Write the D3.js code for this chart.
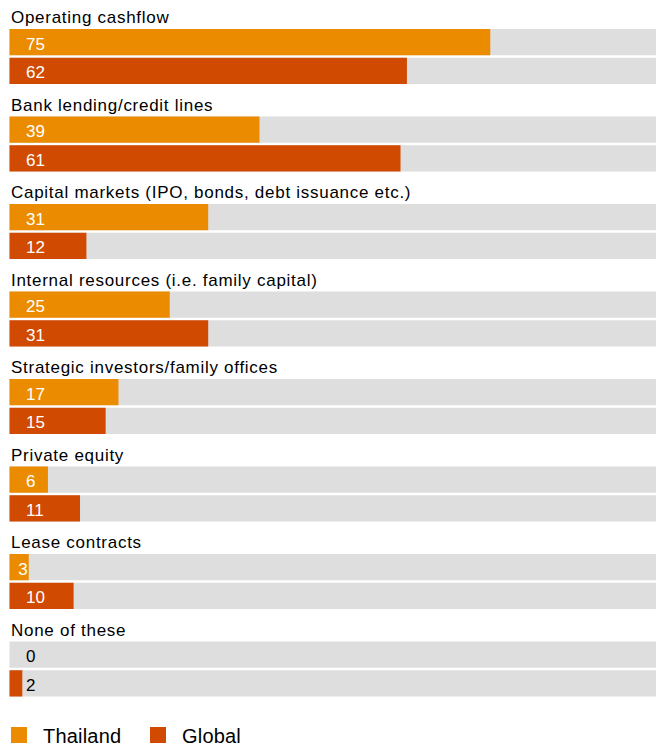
<!DOCTYPE html>
<html>
<head>
<meta charset="utf-8">
<script src="https://cdn.jsdelivr.net/npm/d3@7/dist/d3.min.js"></script>
<style>
  html, body { margin: 0; padding: 0; background: #fff; }
  svg { display: block; font-family: Arial, "Liberation Sans", sans-serif; }
</style>
</head>
<body>
<svg id="chart" width="664" height="746"></svg>
<script>
// Sources of funding, share of respondents (%)
const categories = [
  "Operating cashflow",
  "Bank lending/credit lines",
  "Capital markets (IPO, bonds, debt issuance etc.)",
  "Internal resources (i.e. family capital)",
  "Strategic investors/family offices",
  "Private equity",
  "Lease contracts",
  "None of these"
];
const seriesNames = ["Thailand", "Global"];
const thailand = [75, 39, 31, 25, 17, 6, 3, 0];
const global = [62, 61, 12, 31, 15, 11, 10, 2];
const seriesColors = ["#EB8C00", "#D04A02"];

const values = [thailand, global];
const rows = categories.map((c, i) => ({
  category: c,
  bars: seriesNames.map((s, k) => ({ series: s, value: values[k][i], color: seriesColors[k] }))
}));

const svg = d3.select("#chart");

const x = d3.scaleLinear().domain([0, 100]).range([9.5, 650.5]);
const trackRight = 656;

const y = d3.scaleBand().domain(categories).range([29, 729]).paddingInner(0).paddingOuter(0);
const yInner = d3.scaleBand().domain(seriesNames).range([0, 55]).paddingInner(0.087).paddingOuter(0);

const groups = svg.selectAll("g.group")
  .data(rows)
  .join("g")
  .attr("class", "group")
  .attr("transform", d => `translate(0,${y(d.category)})`);

groups.append("text")
  .attr("x", 11)
  .attr("y", -6)
  .attr("font-size", 17)
  .attr("letter-spacing", 0.72)
  .attr("fill", "#000")
  .text(d => d.category);

const bars = groups.selectAll("g.bar")
  .data(d => d.bars)
  .join("g")
  .attr("class", "bar")
  .attr("transform", d => `translate(0,${yInner(d.series)})`);

// grey track
bars.append("rect")
  .attr("x", x(0))
  .attr("y", 0)
  .attr("width", trackRight - x(0))
  .attr("height", yInner.bandwidth())
  .attr("fill", "#DEDEDE");

// value bar
bars.append("rect")
  .attr("x", x(0))
  .attr("y", 0)
  .attr("width", d => x(d.value) - x(0))
  .attr("height", yInner.bandwidth())
  .attr("fill", d => d.color);

// value label: inside the bar when it fits, otherwise dark next to the start
bars.append("text")
  .attr("font-size", 17)
  .attr("y", yInner.bandwidth() / 2 + 7.5)
  .each(function (d) {
    const t = d3.select(this).text(d.value);
    const w = this.getComputedTextLength();
    const barW = x(d.value) - x(0);
    const defaultX = 26;
    if (barW >= 15) {
      const end = x(d.value);
      const tx = (defaultX + w <= end - 1) ? defaultX : end - 1 - w;
      t.attr("x", tx).attr("fill", "#fff");
    } else {
      t.attr("x", defaultX).attr("fill", "#000");
    }
  });

// legend
const legend = svg.append("g").attr("transform", "translate(11,727)");
const legendX = [0, 139];
const items = legend.selectAll("g")
  .data(seriesNames.map((s, k) => ({ name: s, color: seriesColors[k] })))
  .join("g")
  .attr("transform", (d, i) => `translate(${legendX[i]},0)`);
items.append("rect")
  .attr("width", 16)
  .attr("height", 16)
  .attr("fill", d => d.color);
items.append("text")
  .attr("x", 32)
  .attr("y", 15.5)
  .attr("font-size", 20)
  .attr("letter-spacing", 0.2)
  .attr("fill", "#000")
  .text(d => d.name);
</script>
</body>
</html>
